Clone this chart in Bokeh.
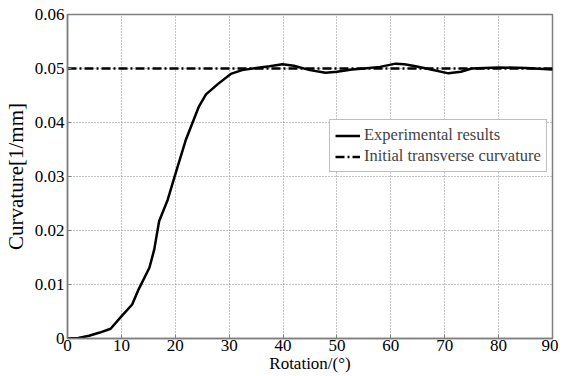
from bokeh.plotting import figure
from bokeh.models import Range1d, FixedTicker, Legend, LegendItem
from bokeh.embed import file_html
from bokeh.resources import INLINE

# Data
rotation = [0, 2, 4, 6, 8, 10, 12, 13.2, 15.2, 16.1, 17, 18.6, 20, 22, 24.4, 25.7,
            28, 30.3, 32.4, 35, 37.5, 39.9, 42, 45, 47.9, 50, 52.8, 55, 58, 60.9,
            62.5, 64.6, 67, 70.7, 73, 75, 80, 85, 90]
curvature = [0.0, 0.0001, 0.0005, 0.0011, 0.0018, 0.0041, 0.0063, 0.0091, 0.0131, 0.0165,
             0.0217, 0.0257, 0.0304, 0.0369, 0.0430, 0.0452, 0.0472, 0.0490, 0.0497, 0.0501,
             0.0504, 0.0508, 0.0505, 0.0497, 0.0492, 0.0494, 0.0498, 0.0500, 0.0503, 0.0509,
             0.0508, 0.0504, 0.0499, 0.0491, 0.0494, 0.0500, 0.0502, 0.0501, 0.0498]
initial_x = [0, 90]
initial_y = [0.05, 0.05]
x_ticks = [0, 10, 20, 30, 40, 50, 60, 70, 80, 90]
y_ticks = [0, 0.01, 0.02, 0.03, 0.04, 0.05, 0.06]

FONT = "Liberation Serif"
GRAY = "#7f7f7f"

p = figure(frame_width=485, frame_height=324, output_backend="svg", toolbar_location=None,
           x_range=Range1d(0, 90), y_range=Range1d(0, 0.06),
           min_border_left=10, min_border_top=14, min_border_right=6, min_border_bottom=0)
p.background_fill_color = "white"
p.border_fill_color = "white"
p.outline_line_color = GRAY
p.outline_line_width = 1.5

for ax in (p.xaxis[0], p.yaxis[0]):
    ax.axis_line_color = GRAY
    ax.axis_line_width = 1.5
    ax.major_tick_in = 4
    ax.major_tick_out = 0
    ax.major_tick_line_color = GRAY
    ax.minor_tick_line_color = None
    ax.major_label_text_font = FONT
    ax.major_label_text_font_size = "17px"
    ax.major_label_text_color = "black"
    ax.axis_label_text_font = FONT
    ax.axis_label_text_font_style = "normal"
    ax.axis_label_text_color = "black"

p.xaxis.ticker = FixedTicker(ticks=x_ticks)
p.yaxis.ticker = FixedTicker(ticks=y_ticks)
p.xaxis.axis_label = "Rotation/(°)"
p.yaxis.axis_label = "Curvature[1/mm]"
p.xaxis.axis_label_text_font_size = "17px"
p.yaxis.axis_label_text_font_size = "21px"
p.xaxis.major_label_standoff = 1
p.xaxis.axis_label_standoff = 0
p.yaxis.major_label_standoff = 3
p.yaxis.axis_label_standoff = 4
p.yaxis.formatter.use_scientific = False

for g in (p.xgrid[0], p.ygrid[0]):
    g.grid_line_color = "#8a8a8a"
    g.grid_line_dash = "1 2"
    g.grid_line_width = 1
p.xgrid.ticker = FixedTicker(ticks=x_ticks)
p.ygrid.ticker = FixedTicker(ticks=y_ticks)

r_init = p.line(initial_x, initial_y, line_color="black", line_width=2.5, line_dash="9 3 2 3")
r_exp = p.line(rotation, curvature, line_color="black", line_width=2.5)

legend = Legend(items=[LegendItem(label="Experimental results", renderers=[r_exp]),
                       LegendItem(label="Initial transverse curvature", renderers=[r_init])],
                location=(262, 166))
legend.label_text_font = FONT
legend.label_text_font_size = "16.5px"
legend.label_height = 17
legend.glyph_height = 17
legend.glyph_width = 25
legend.spacing = 1
legend.padding = 5
legend.margin = 0
legend.label_standoff = 4
legend.border_line_color = GRAY
legend.border_line_width = 1.2
legend.background_fill_alpha = 1
p.add_layout(legend)

open("out.html", "w").write(file_html(p, INLINE))
